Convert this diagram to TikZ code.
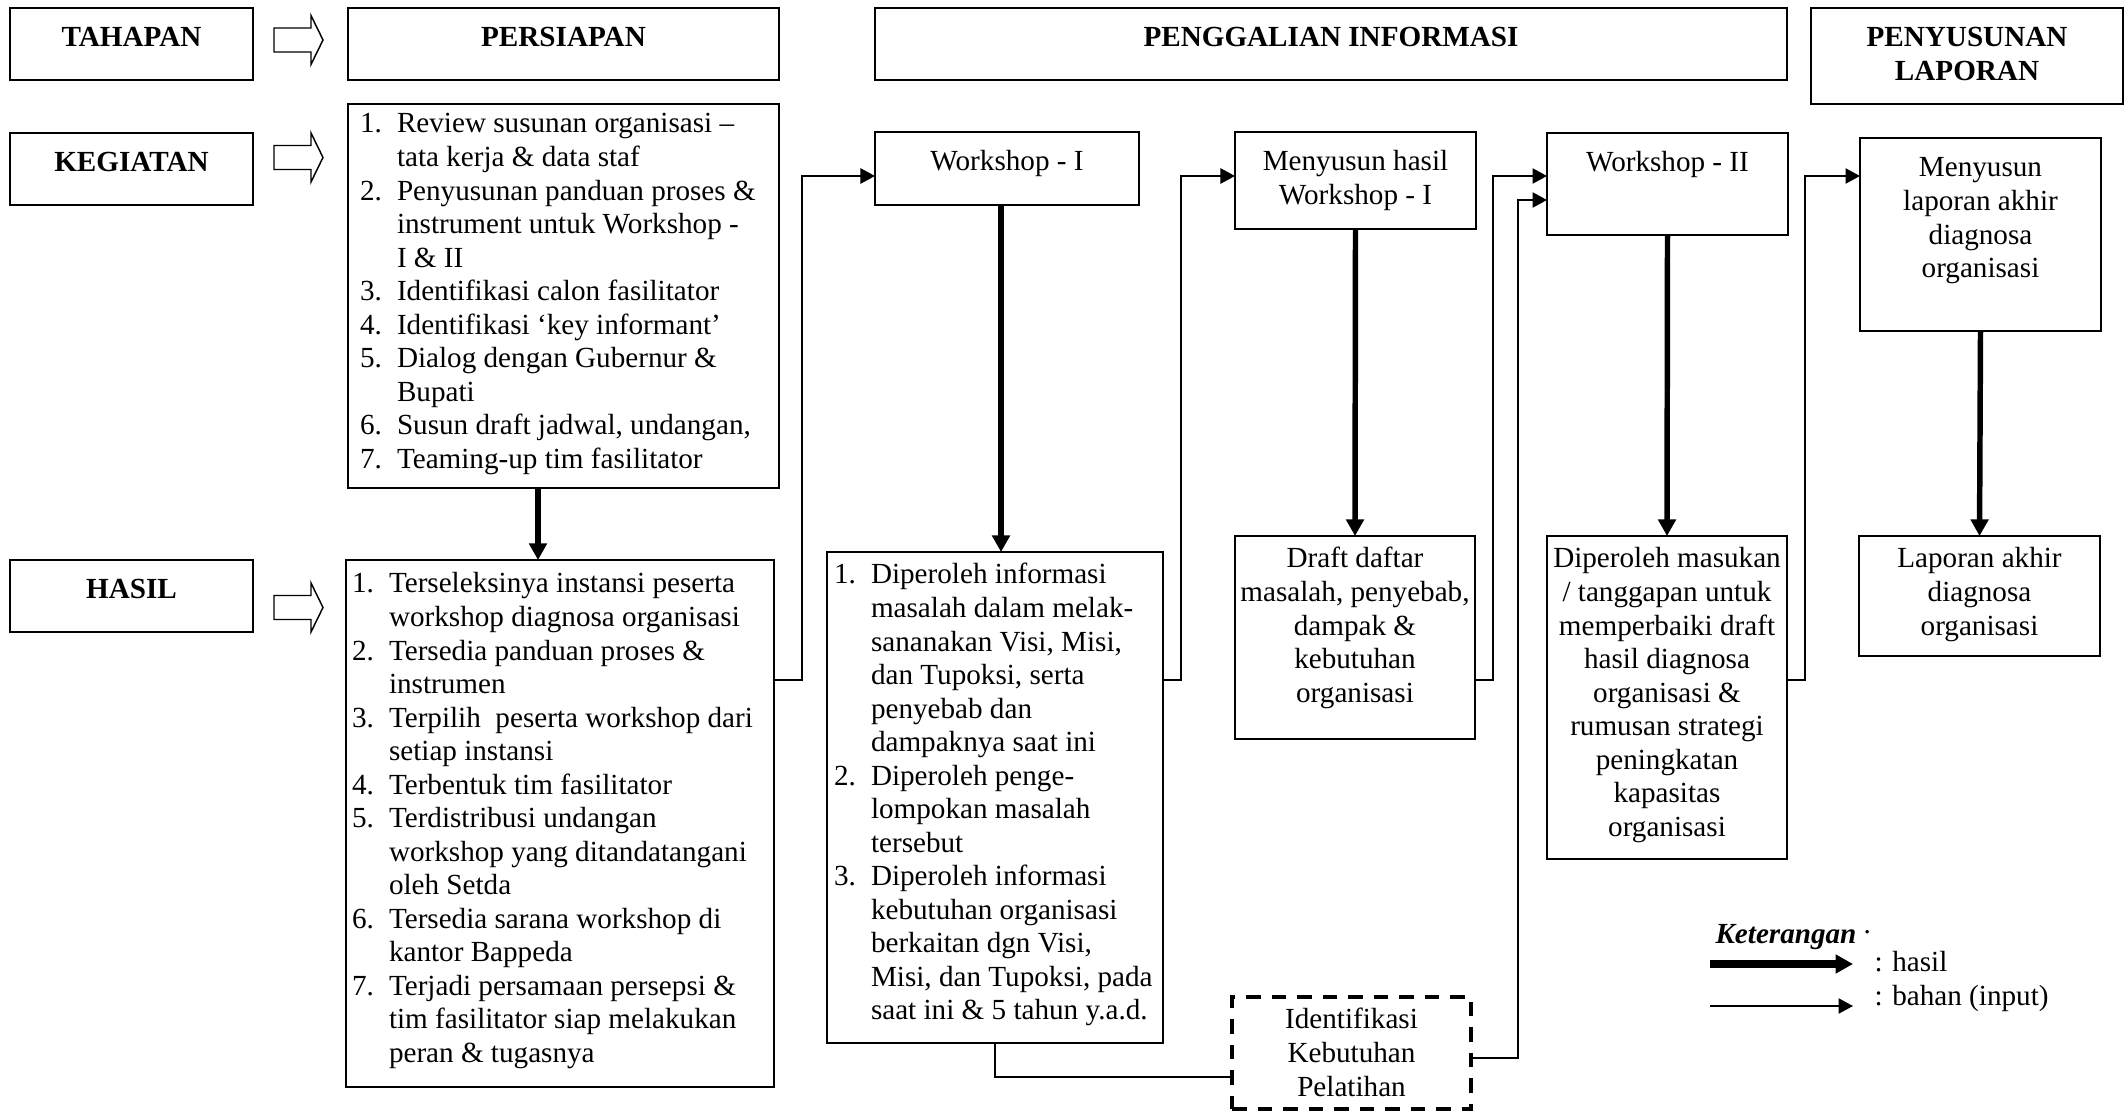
\documentclass[tikz,border=0pt]{standalone}
\usepackage{fontspec}
\setmainfont{Liberation Serif}
\usetikzlibrary{arrows.meta}
\newlength{\unitpx}
\setlength{\unitpx}{0.01447cm}
% box contents: width, height, top gap (px), text
\newcommand{\boxtext}[4]{\parbox[t][#2\unitpx][t]{#1\unitpx}{\vspace*{#3\unitpx}#4}}
% numbered line with hanging indent
\newcommand{\itm}[2]{\par\hangindent=37\unitpx\hangafter=1\noindent\strut\makebox[37\unitpx][l]{#1}#2\par}

\begin{document}
\begin{tikzpicture}[x=\unitpx, y=-\unitpx,
  font=\fontsize{12pt}{13.8pt}\selectfont,
  pbox/.style={draw, line width=0.9pt, inner sep=0pt, outer sep=0pt, anchor=north west},
  dbox/.style={pbox, line width=1.5pt, dash pattern=on 6pt off 4.5pt},
  blockarr/.style={line width=0.6pt},
  hasilarr/.style={line width=2.25pt, -{Triangle[length=0.24cm,width=0.25cm]}},
  bahanarr/.style={line width=0.75pt, -{Triangle[length=0.21cm,width=0.22cm]}},
  bahanline/.style={line width=0.75pt}]
\useasboundingbox (0,0) rectangle (2125,1112);

% row labels and stages
\node[pbox] (tahapan) at (10,8) {\boxtext{243}{72}{15.5}{\centering\bfseries\strut TAHAPAN}};
\node[pbox] (kegiatan) at (10,133) {\boxtext{243}{72}{15.5}{\centering\bfseries\strut KEGIATAN}};
\node[pbox] (hasillbl) at (10,560) {\boxtext{243}{72}{15}{\centering\bfseries\strut HASIL}};
\node[pbox] (persiapan) at (348,8) {\boxtext{431}{72}{15.5}{\centering\bfseries\strut PERSIAPAN}};
\node[pbox] (penggalian) at (875,8) {\boxtext{912}{72}{15.5}{\centering\bfseries\strut PENGGALIAN INFORMASI}};
\node[pbox] (penyusunan) at (1811,8) {\boxtext{312}{96}{15.5}{\centering\bfseries\strut PENYUSUNAN\\ LAPORAN}};

% hollow arrows
\foreach \ya in {40,157.5,607.5}
  \draw[blockarr] (274,\ya-12) -- (311,\ya-12) -- (311,\ya-24.5) -- (323,\ya)
    -- (311,\ya+24.5) -- (311,\ya+12) -- (274,\ya+12) -- cycle;

% persiapan
\node[pbox] (keglist) at (348,104) {\boxtext{431}{384}{5.5}{\leftskip=12\unitpx\relax\rightskip=0pt plus 1fil\relax
  \itm{1.}{Review susunan organisasi –\\ tata kerja \& data staf}
  \itm{2.}{Penyusunan panduan proses \&\\ instrument untuk Workshop -\\ I \& II}
  \itm{3.}{Identifikasi calon fasilitator}
  \itm{4.}{Identifikasi `key informant'}
  \itm{5.}{Dialog dengan Gubernur \&\\ Bupati}
  \itm{6.}{Susun draft jadwal, undangan,}
  \itm{7.}{Teaming-up tim fasilitator}}};
\node[pbox] (haslist) at (346,560) {\boxtext{428}{527}{9.5}{\leftskip=6\unitpx\relax\rightskip=0pt plus 1fil\relax
  \itm{1.}{Terseleksinya instansi peserta\\ workshop diagnosa organisasi}
  \itm{2.}{Tersedia panduan proses \&\\ instrumen}
  \itm{3.}{Terpilih\ \ peserta workshop dari\\ setiap instansi}
  \itm{4.}{Terbentuk tim fasilitator}
  \itm{5.}{Terdistribusi undangan\\ workshop yang ditandatangani\\ oleh Setda}
  \itm{6.}{Tersedia sarana workshop di\\ kantor Bappeda}
  \itm{7.}{Terjadi persamaan persepsi \&\\ tim fasilitator siap melakukan\\ peran \& tugasnya}}};

% penggalian informasi
\node[pbox] (ws1) at (875,132) {\boxtext{264}{73}{15.5}{\centering\strut Workshop - I}};
\node[pbox] (dip1) at (827,552) {\boxtext{336}{491}{8.5}{\leftskip=7\unitpx\relax\rightskip=0pt plus 1fil\relax
  \itm{1.}{Diperoleh informasi\\ masalah dalam melak-\\ sananakan Visi, Misi,\\ dan Tupoksi, serta\\ penyebab dan\\ dampaknya saat ini}
  \itm{2.}{Diperoleh penge-\\ lompokan masalah\\ tersebut}
  \itm{3.}{Diperoleh informasi\\ kebutuhan organisasi\\ berkaitan dgn Visi,\\ Misi, dan Tupoksi, pada\\ saat ini \& 5 tahun y.a.d.}}};
\node[pbox] (mhasil) at (1235,132) {\boxtext{241}{97}{15.5}{\centering\strut Menyusun hasil\\ Workshop - I}};
\node[pbox] (draft) at (1235,536) {\boxtext{240}{203}{8.5}{\centering\strut Draft daftar\\ masalah, penyebab,\\ dampak \&\\ kebutuhan\\ organisasi}};
\node[pbox] (ws2) at (1547,133) {\boxtext{241}{102}{15}{\centering\strut Workshop - II}};
\node[pbox] (masukan) at (1547,536) {\boxtext{240}{323}{8.5}{\centering\strut Diperoleh masukan\\ / tanggapan untuk\\ memperbaiki draft\\ hasil diagnosa\\ organisasi \&\\ rumusan strategi\\ peningkatan\\ kapasitas\\ organisasi}};
\node[dbox] (ikp) at (1232,997) {\boxtext{239}{112}{8.5}{\centering\strut Identifikasi\\ Kebutuhan\\ Pelatihan}};

% penyusunan laporan
\node[pbox] (mlap) at (1860,138) {\boxtext{241}{193}{15.5}{\centering\strut Menyusun\\ laporan akhir\\ diagnosa\\ organisasi}};
\node[pbox] (laporan) at (1859,536) {\boxtext{241}{120}{8.5}{\centering\strut Laporan akhir\\ diagnosa\\ organisasi}};

% hasil (thick)
\draw[hasilarr] (keglist.south -| 538,0) -- (haslist.north -| 538,0);
\draw[hasilarr] (ws1.south -| 1001,0) -- (dip1.north -| 1001,0);
\draw[hasilarr] (mhasil.south) -- (draft.north);
\draw[hasilarr] (ws2.south) -- (masukan.north);
\draw[hasilarr] (mlap.south) -- (laporan.north);

% bahan (thin)
\draw[bahanarr] (haslist.east |- 0,680) -- ++(28,0) |- (ws1.west |- 0,176);
\draw[bahanarr] (dip1.east |- 0,680) -- ++(18,0) |- (mhasil.west |- 0,176);
\draw[bahanarr] (draft.east |- 0,680) -- ++(18,0) |- (ws2.west |- 0,176);
\draw[bahanarr] (masukan.east |- 0,680) -- ++(18,0) |- (mlap.west |- 0,176);
\draw[bahanline] (dip1.south) |- (ikp.west |- 0,1077);
\draw[bahanarr] (ikp.east |- 0,1058) -- ++(47,0) |- (ws2.west |- 0,200);

% keterangan
\node[anchor=base west, inner sep=0pt] (ket) at (1715,943) {\textbf{\textit{Keterangan}} \raisebox{4pt}{.}};
\coordinate (kh1) at (1710,964);
\coordinate (kh2) at (1853,964);
\coordinate (kb1) at (1710,1006);
\coordinate (kb2) at (1853,1006);
\draw[line width=3.25pt, -{Triangle[length=0.25cm,width=0.26cm]}] (kh1) -- (kh2);
\draw[bahanarr] (kb1) -- (kb2);
\node[anchor=base west, inner sep=0pt] (lhasil) at (1874,971) {: hasil};
\node[anchor=base west, inner sep=0pt] (lbahan) at (1874,1005) {: bahan (input)};
\end{tikzpicture}
\end{document}
